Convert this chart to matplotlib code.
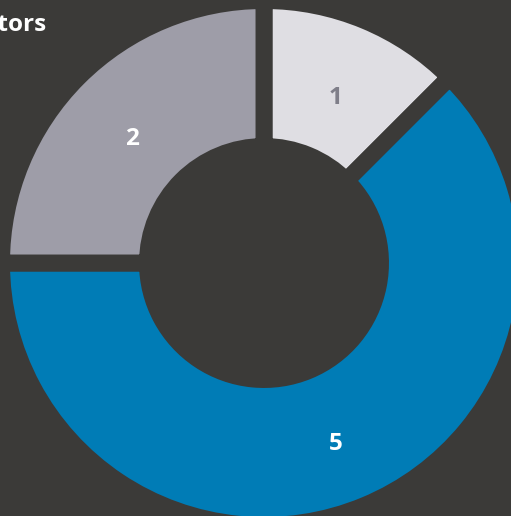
import matplotlib
matplotlib.use("Agg")
import matplotlib.pyplot as plt
import numpy as np

# Donut chart data
categories = ["A", "B", "C"]
values = [1, 5, 2]
labels = ["1", "5", "2"]
title = "Visitors"

BG = "#3b3a38"
colors = ["#dfdee3", "#007cb6", "#9e9da8"]
label_colors = ["#7f7e89", "#ffffff", "#ffffff"]

W, H = 511, 516
fig = plt.figure(figsize=(W / 100, H / 100), dpi=100, facecolor=BG)
ax = fig.add_axes([0, 0, 1, 1])
ax.set_facecolor(BG)

cx, cy = 264, H - 263
r_out = 262.5
r_in = 116.5
gap_lw = 12.2  # points; background-coloured edges form the gaps

ax.pie(
    values,
    colors=colors,
    startangle=90,
    counterclock=False,
    center=(cx, cy),
    radius=r_out,
    wedgeprops=dict(width=r_out - r_in, edgecolor=BG, linewidth=gap_lw),
    frame=True,
)
ax.set_xlim(0, W)
ax.set_ylim(0, H)
ax.set_aspect("equal")
ax.axis("off")

# Value labels at the middle of each ring segment
total = sum(values)
start = 90.0
r_lab = 187
cap_half = 9  # half the digit height, so digits sit centred on the anchor
for v, lab, lc in zip(values, labels, label_colors):
    span = 360.0 * v / total
    mid = np.deg2rad(start - span / 2)
    ax.text(cx + r_lab * np.cos(mid), cy + r_lab * np.sin(mid) - 5 - cap_half, lab,
            ha="center", va="baseline", color=lc, fontsize=17.5,
            fontfamily="Open Sans", fontweight="bold")
    start -= span

fig.text(46 / W, 1 - 31 / H, title, ha="right", va="baseline",
         color="white", fontsize=17.5, fontfamily="Open Sans",
         fontweight="bold")

fig.savefig("out.png", dpi=100, facecolor=BG)
